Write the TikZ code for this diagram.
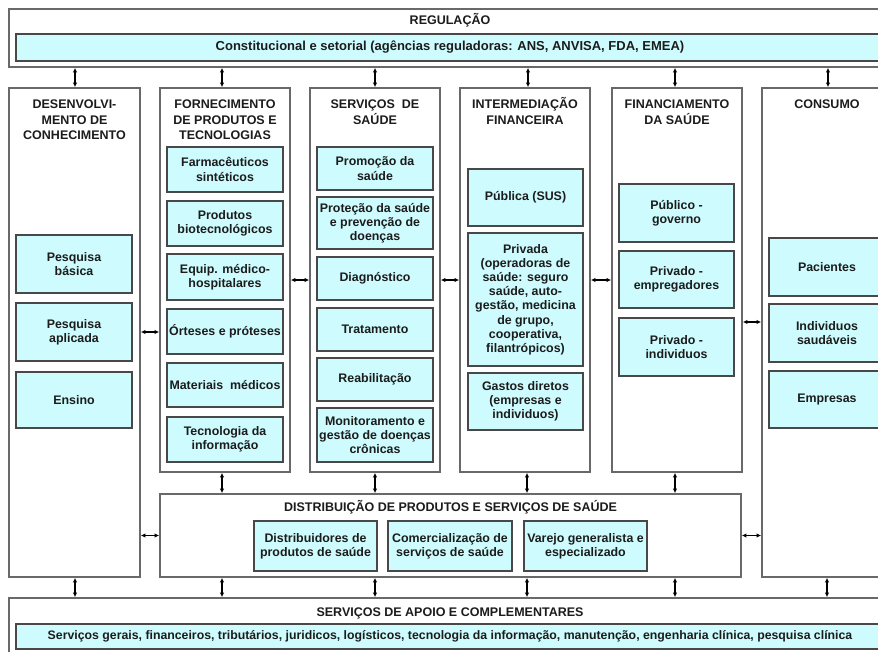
\documentclass[tikz,border=0pt]{standalone}
\usepackage{fontspec}
\setmainfont{Liberation Sans}
\usetikzlibrary{arrows.meta}
\definecolor{cy}{RGB}{206,252,254}
\definecolor{bd}{RGB}{72,72,72}
\definecolor{ob}{RGB}{105,105,105}
\definecolor{tx}{RGB}{28,28,28}
\tikzset{
  outer/.style={draw=ob, line width=1.8pt, fill=white, inner sep=0pt},
  cb/.style={draw=bd, line width=1.5pt, fill=cy, inner sep=0.5pt, align=center,
    font=\bfseries\fontsize{12.4}{14.2}\selectfont, text=tx},
  ttl/.style={inner sep=0pt, align=center, anchor=north,
    font=\bfseries\fontsize{12.5}{15.5}\selectfont, text=tx},
  arr/.style={{Latex[length=4.5pt,width=4.5pt]}-{Latex[length=4.5pt,width=4.5pt]},
    line width=1.3pt, draw=black},
}
\newcommand\bx[7]{\node[#1, minimum width={(#5-#3)*1pt}, minimum height={(#6-#4)*1pt}] (#2) at ({(#3+#5)/2},{(#4+#6)/2}) {#7};}
\newcommand\fl{\rule{0pt}{12pt}}
\begin{document}
\begin{tikzpicture}[x=1pt,y=-1pt]
\useasboundingbox (0,0) rectangle (878,651);
\fill[white] (0,0) rectangle (878,651);
\clip (0,0) rectangle (878,651);
% regulation
\bx{outer}{reg}{9}{9}{891}{67}{}
\node[ttl] (treg) at (450,12.5) {\fl REGULAÇÃO};
\bx{cb,font=\bfseries\fontsize{13}{14}\selectfont}{regc}{16}{34}{884}{61}{Constitucional e setorial (agências reguladoras: ANS, ANVISA, FDA, EMEA)}
% columns
\bx{outer}{c1}{9}{88}{140}{577}{}
\bx{outer}{c2}{160}{88}{290}{472}{}
\bx{outer}{c3}{310}{88}{440}{472}{}
\bx{outer}{c4}{460}{88}{590}{472}{}
\bx{outer}{c5}{612}{88}{742}{472}{}
\bx{outer}{c6}{762}{88}{892}{577}{}
\node[ttl] (t1) at (74.5,96.5) {\fl DESENVOLVI-\\MENTO DE\\CONHECIMENTO};
\node[ttl] (t2) at (225,96.5) {\fl FORNECIMENTO\\DE PRODUTOS E\\TECNOLOGIAS};
\node[ttl] (t3) at (375,96.5) {\fl SERVIÇOS\ \ DE\\SAÚDE};
\node[ttl] (t4) at (525,96.5) {\fl INTERMEDIAÇÃO\\FINANCEIRA};
\node[ttl] (t5) at (677,96.5) {\fl FINANCIAMENTO\\DA SAÚDE};
\node[ttl] (t6) at (827,96.5) {\fl CONSUMO};
% column 1
\bx{cb}{pb}{16}{235}{132}{293}{Pesquisa\\básica}
\bx{cb}{pa}{16}{303}{132}{361}{Pesquisa\\aplicada}
\bx{cb}{en}{16}{372}{132}{428}{Ensino}
% column 2
\bx{cb}{fs}{167}{147}{283}{192}{Farmacêuticos\\sintéticos}
\bx{cb}{pbt}{167}{201}{283}{246}{Produtos\\biotecnológicos}
\bx{cb}{eq}{167}{254}{283}{300}{Equip. médico-\\hospitalares}
\bx{cb}{op}{167}{309}{283}{354}{Órteses e próteses}
\bx{cb}{mm}{167}{363}{283}{407}{Materiais\ \ médicos}
\bx{cb}{ti}{167}{417}{283}{462}{Tecnologia da\\informação}
% column 3
\bx{cb}{ps}{317}{147}{433}{190}{Promoção da\\saúde}
\bx{cb}{pr}{317}{197}{433}{249}{Proteção da saúde\\e prevenção de\\doenças}
\bx{cb}{dg}{317}{257}{433}{300}{Diagnóstico}
\bx{cb}{tr}{317}{308}{433}{351}{Tratamento}
\bx{cb}{rb}{317}{358}{433}{401}{Reabilitação}
\bx{cb}{mg}{317}{408}{433}{462}{Monitoramento e\\gestão de doenças\\crônicas}
% column 4
\bx{cb}{pu}{468}{169}{583}{226}{Pública (SUS)}
\bx{cb}{pv}{468}{233}{583}{366}{Privada\\(operadoras de\\saúde: seguro\\saúde, auto-\\gestão, medicina\\de grupo,\\cooperativa,\\filantrópicos)}
\bx{cb}{gd}{468}{373}{583}{430}{Gastos diretos\\(empresas e\\individuos)}
% column 5
\bx{cb}{pg}{619}{184}{734}{242}{Público -\\governo}
\bx{cb}{pe}{619}{251}{734}{308}{Privado -\\empregadores}
\bx{cb}{pi}{619}{318}{734}{376}{Privado -\\individuos}
% column 6
\bx{cb}{pc}{769}{238}{885}{296}{Pacientes}
\bx{cb}{is}{769}{304}{885}{362}{Individuos\\saudáveis}
\bx{cb}{em}{769}{371}{885}{428}{Empresas}
% distribution
\bx{outer}{dist}{160}{494}{741}{577}{}
\node[ttl] (tdist) at (450.5,499.5) {\fl DISTRIBUIÇÃO DE PRODUTOS E SERVIÇOS DE SAÚDE};
\bx{cb}{dp}{254}{521}{377}{571}{Distribuidores de\\produtos de saúde}
\bx{cb}{cs}{388}{521}{512}{571}{Comercialização de\\serviços de saúde}
\bx{cb}{vg}{524}{521}{647}{571}{Varejo generalista e\\especializado}
% support
\bx{outer}{sup}{9}{598}{891}{657}{}
\node[ttl] (tsup) at (450,604) {\fl SERVIÇOS DE APOIO E COMPLEMENTARES};
\bx{cb,font=\bfseries\fontsize{12.3}{14}\selectfont}{supc}{16}{624}{884}{649}{Serviços gerais, financeiros, tributários, juridicos, logísticos, tecnologia da informação, manutenção, engenharia clínica, pesquisa clínica}
% vertical arrows top
\foreach \n/\x in {c1/75,c2/222,c3/375,c4/528,c5/675,c6/828}
  \draw[arr] (\x,0 |- reg.south) -- (\x,0 |- \n.north);
% columns to distribution
\foreach \n/\x in {c2/222,c3/375,c4/527,c5/675}
  \draw[arr] (\x,0 |- \n.south) -- (\x,0 |- dist.north);
% to support
\draw[arr] (75,0 |- c1.south) -- (75,0 |- sup.north);
\foreach \x in {222,375,527,675}
  \draw[arr] (\x,0 |- dist.south) -- (\x,0 |- sup.north);
\draw[arr] (827,0 |- c6.south) -- (827,0 |- sup.north);
% horizontal arrows
\draw[arr] (c1.east |- 0,332) -- (c2.west |- 0,332);
\draw[arr] (c2.east |- 0,280) -- (c3.west |- 0,280);
\draw[arr] (c3.east |- 0,280) -- (c4.west |- 0,280);
\draw[arr] (c4.east |- 0,280) -- (c5.west |- 0,280);
\draw[arr] (c5.east |- 0,322) -- (c6.west |- 0,322);
\draw[arr] (c1.east |- dist.west) -- (dist.west);
\draw[arr] (dist.east) -- (c6.west |- dist.east);
\end{tikzpicture}
\end{document}
